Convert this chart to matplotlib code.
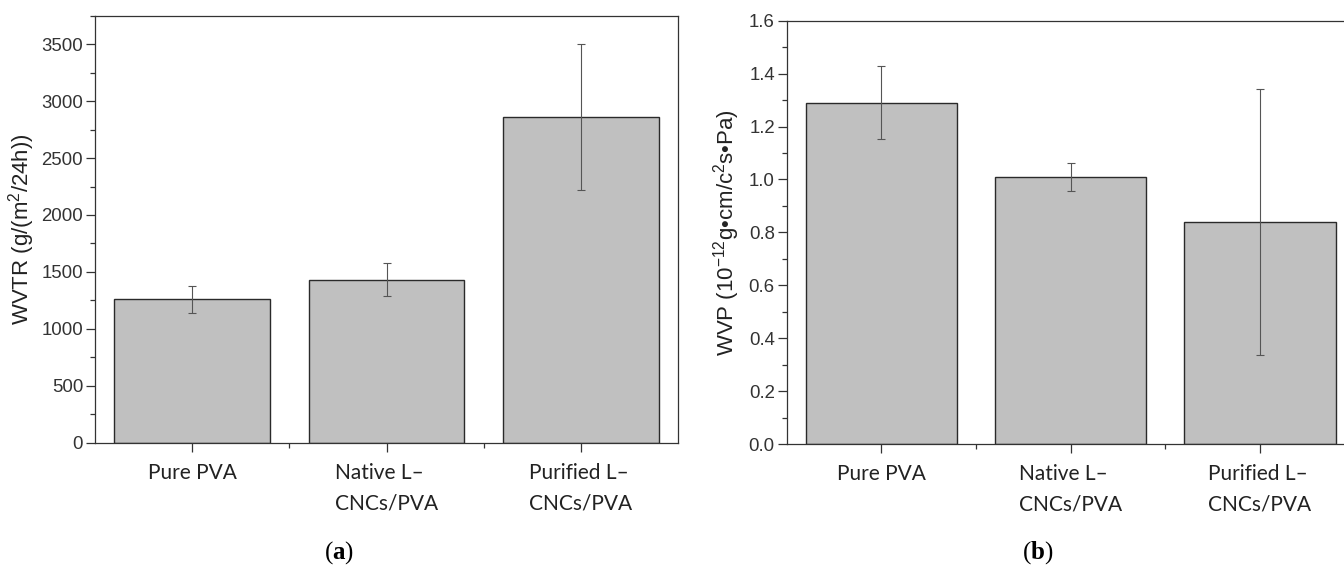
import numpy as np
import matplotlib.pyplot as plt
from matplotlib.ticker import MultipleLocator

plt.rcParams['mathtext.fontset'] = 'custom'
plt.rcParams['mathtext.rm'] = 'Liberation Sans'
plt.rcParams['mathtext.it'] = 'Liberation Sans:italic'
plt.rcParams['mathtext.bf'] = 'Liberation Serif:bold'

# data
categories = ["Pure PVA", "Native L\u2013\nCNCs/PVA", "Purified L\u2013\nCNCs/PVA"]
wvtr = [1260, 1432, 2860]
wvtr_err = [118, 144, 645]
wvp = [1.29, 1.01, 0.838]
wvp_err = [0.138, 0.052, 0.502]

BAR_COLOR = "#c0c0c0"
EDGE = "#2a2a2a"
AXIS = "#333333"

fig = plt.figure(figsize=(13.44, 5.67), dpi=100)
ax1 = fig.add_axes([0.0707, 0.2192, 0.4338, 0.7531])
ax2 = fig.add_axes([0.5853, 0.2169, 0.4226, 0.7466])


def style_axes(ax, values, errors, ylim, major, minor, fmt):
    x = np.arange(1, len(values) + 1)
    ax.bar(x, values, width=0.8, color=BAR_COLOR, edgecolor=EDGE, linewidth=1.0, zorder=2)
    ax.errorbar(x, values, yerr=errors, fmt="none", ecolor="#555555",
                elinewidth=0.8, capsize=3, capthick=0.8, zorder=3)
    ax.set_xlim(0.5, 3.5)
    ax.set_ylim(*ylim)
    ax.yaxis.set_major_locator(MultipleLocator(major))
    ax.yaxis.set_minor_locator(MultipleLocator(minor))
    ax.yaxis.set_major_formatter(fmt)
    ax.set_xticks(x)
    ax.set_xticks([1.5, 2.5], minor=True)
    ax.set_xticklabels(categories, fontfamily="Lato", fontsize=15,
                       multialignment="left", linespacing=1.65, color="#222222")
    for lab in ax.get_yticklabels():
        lab.set_fontfamily("Liberation Sans")
        lab.set_fontsize(13.4)
        lab.set_color(AXIS)
    ax.tick_params(axis="both", which="major", direction="out", length=6.5,
                   width=0.9, color=AXIS)
    ax.tick_params(axis="both", which="minor", direction="out", length=3.6,
                   width=0.9, color=AXIS)
    ax.tick_params(axis="x", which="major", pad=8)
    ax.tick_params(axis="y", which="major", pad=2)
    for sp in ax.spines.values():
        sp.set_color(AXIS)
        sp.set_linewidth(0.9)


style_axes(ax1, wvtr, wvtr_err, (0, 3750), 500, 250, "{x:.0f}")
style_axes(ax2, wvp, wvp_err, (0, 1.6), 0.2, 0.1, "{x:.1f}")

ax1.set_ylabel(r"WVTR (g/(m$^{2}$/24h))", fontfamily="Liberation Sans",
               fontsize=16, color="#222222")
ax1.yaxis.set_label_coords(-0.099, 0.5)
ax2.set_ylabel("WVP (10$^{-12}$g\u2022cm/c$^{2}$s\u2022Pa)", fontfamily="Liberation Sans",
               fontsize=16, color="#222222")
ax2.yaxis.set_label_coords(-0.079, 0.5)

fig.text(0.252, 0.0247, r"($\mathbf{a}$)", fontfamily="Liberation Serif",
         fontsize=18, ha="center", va="center")
fig.text(0.772, 0.0247, r"($\mathbf{b}$)", fontfamily="Liberation Serif",
         fontsize=18, ha="center", va="center")

fig.savefig("out.png", dpi=100, facecolor="white")
